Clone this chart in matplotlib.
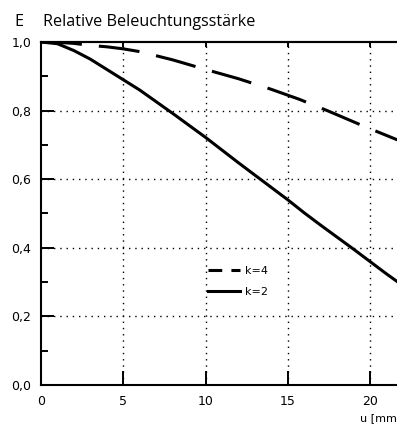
import matplotlib
matplotlib.use("Agg")
import matplotlib.pyplot as plt
from matplotlib.ticker import MultipleLocator, FuncFormatter
from matplotlib.lines import Line2D

# Data
u_k2 = [0, 1, 1.5, 2, 3, 4, 5, 6, 7, 8, 9, 10, 11, 12, 13, 14, 15, 16, 17, 18, 19, 20, 21, 21.7]
E_k2 = [1.0, 0.995, 0.985, 0.975, 0.95, 0.92, 0.89, 0.86, 0.826, 0.792, 0.757, 0.722, 0.685, 0.648, 0.612, 0.576, 0.54, 0.502, 0.466, 0.431, 0.396, 0.36, 0.324, 0.30]
u_k4 = [0, 1, 2, 3, 4, 5, 6, 8, 10, 12, 14, 15.7, 17.4, 19.7, 21.7]
E_k4 = [1.0, 0.999, 0.996, 0.99, 0.986, 0.98, 0.972, 0.948, 0.92, 0.893, 0.862, 0.833, 0.80, 0.753, 0.714]
labels = ["k=4", "k=2"]
x_ticks = [0, 5, 10, 15, 20]
y_ticks = [0.0, 0.2, 0.4, 0.6, 0.8, 1.0]

W, H = 397, 428
fig = plt.figure(figsize=(W / 100, H / 100), dpi=100)
ax = fig.add_axes([41 / W, (H - 385) / H, 1 - 41 / W, (385 - 42) / H])

ax.set_xlim(0, 356 / 16.45)
ax.set_ylim(0, 1.0)

ln4, = ax.plot(u_k4, E_k4, color="black", lw=2.2, solid_capstyle="butt")
ln4.set_dashes([13.4, 5.6])
ln2, = ax.plot(u_k2, E_k2, color="black", lw=2.2)

# grid
for x in x_ticks[1:]:
    ax.axvline(x, color="black", lw=1.0, dashes=(1, 3.5), zorder=0)
for y in y_ticks[1:-1]:
    ax.axhline(y, color="black", lw=1.0, dashes=(1, 3.5), zorder=0)

ax.spines["right"].set_visible(False)
for s in ["left", "bottom", "top"]:
    ax.spines[s].set_linewidth(1.5)

ax.set_xticks(x_ticks)
ax.set_yticks(y_ticks)
ax.yaxis.set_minor_locator(MultipleLocator(0.1))
fmt = FuncFormatter(lambda v, p: f"{v:.1f}".replace(".", ","))
ax.yaxis.set_major_formatter(fmt)
ax.tick_params(axis="x", which="major", direction="in", length=10, width=1.4, labelsize=9, pad=7)
ax.tick_params(axis="y", which="major", direction="in", length=9.4, width=1.4, labelsize=9, pad=7)
ax.tick_params(axis="y", which="minor", direction="in", length=5, width=1.4)

sec = ax.secondary_xaxis("top")
sec.set_xticks(x_ticks[1:])
sec.tick_params(direction="in", length=3.6, width=1.4, labeltop=False)
sec.spines["top"].set_linewidth(1.5)

h4 = Line2D([], [], color="black", lw=2.2)
h4.set_dashes([4.5, 3.0])
h2 = Line2D([], [], color="black", lw=2.2)
ax.legend([h4, h2], labels, loc="upper left", bbox_to_anchor=((208 - 41) / 356, (385 - 266) / 343),
          frameon=False, fontsize=8, handlelength=2.9, handletextpad=0.45, labelspacing=0.95,
          borderpad=0, borderaxespad=0)

fig.text(19 / W, 1 - 22 / H, "E", fontsize=11.6, family="Open Sans", ha="center", va="center")
fig.text(43 / W, 1 - 22 / H, "Relative Beleuchtungsstärke", fontsize=11.6, family="Open Sans", ha="left", va="center")
fig.text(360 / W, 1 - 418 / H, "u [mm", fontsize=8, ha="left", va="center")

fig.savefig("out.png", dpi=100)
